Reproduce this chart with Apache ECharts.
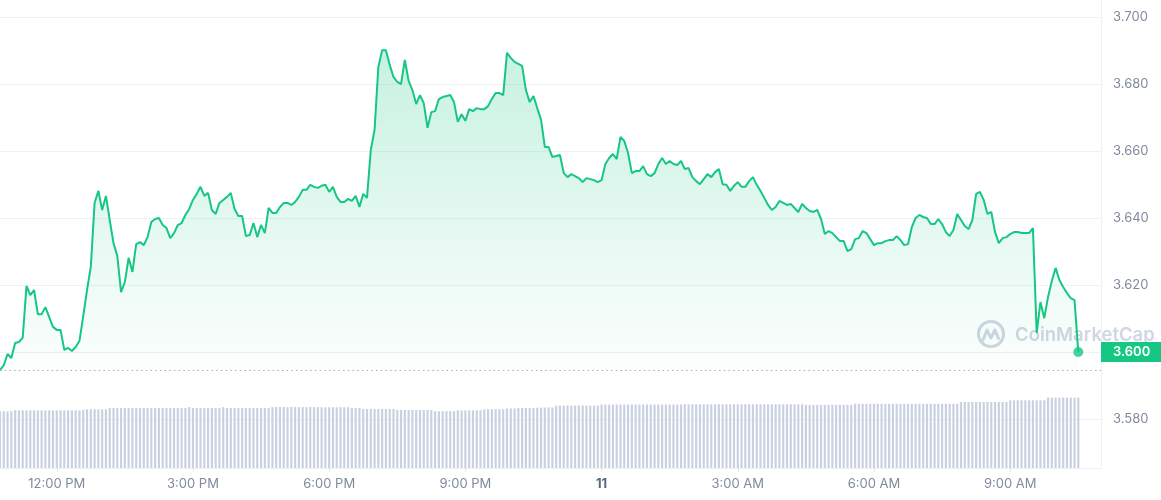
<!DOCTYPE html>
<html>
<head>
<meta charset="utf-8">
<script src="https://cdn.jsdelivr.net/npm/echarts@6/dist/echarts.min.js"></script>
<style>
html,body{margin:0;padding:0;background:#fff;}
#chart{width:1161px;height:500px;}
</style>
</head>
<body>
<div id="chart"></div>
<script>
// 5-minute steps starting 10:45 AM; last 6 slots are empty future room
const startMinute = 10 * 60 + 45;
const slotCount = 292;
const stepMinutes = 5;

const tickTimes = ['12:00', '15:00', '18:00', '21:00', '00:00', '03:00', '06:00', '09:00'];
const tickLabels = ['12:00 PM', '3:00 PM', '6:00 PM', '9:00 PM', '11', '3:00 AM', '6:00 AM', '9:00 AM'];

const priceTicks = [3.58, 3.60, 3.62, 3.64, 3.66, 3.68, 3.70];

const openPrice = 3.5946;

const prices = [
  3.5946, 3.5961, 3.5994, 3.5982, 3.6027, 3.6030, 3.6042, 3.6197, 3.6170, 3.6185,
  3.6113, 3.6113, 3.6134, 3.6104, 3.6075, 3.6066, 3.6066, 3.6006, 3.6012, 3.6003,
  3.6015, 3.6033, 3.6107, 3.6185, 3.6254, 3.6445, 3.6481, 3.6424, 3.6466, 3.6394,
  3.6325, 3.6287, 3.6179, 3.6209, 3.6281, 3.6239, 3.6322, 3.6328, 3.6319, 3.6343,
  3.6388, 3.6397, 3.6400, 3.6379, 3.6370, 3.6340, 3.6355, 3.6379, 3.6385, 3.6409,
  3.6427, 3.6454, 3.6472, 3.6493, 3.6466, 3.6475, 3.6424, 3.6412, 3.6445, 3.6454,
  3.6463, 3.6475, 3.6427, 3.6406, 3.6406, 3.6346, 3.6349, 3.6385, 3.6343, 3.6379,
  3.6355, 3.6430, 3.6415, 3.6415, 3.6433, 3.6445, 3.6445, 3.6439, 3.6448, 3.6463,
  3.6484, 3.6484, 3.6499, 3.6493, 3.6490, 3.6496, 3.6499, 3.6478, 3.6493, 3.6463,
  3.6448, 3.6448, 3.6457, 3.6451, 3.6466, 3.6433, 3.6472, 3.6460, 3.6603, 3.6663,
  3.6851, 3.6901, 3.6901, 3.6857, 3.6821, 3.6806, 3.6800, 3.6872, 3.6809, 3.6782,
  3.6740, 3.6767, 3.6743, 3.6669, 3.6716, 3.6719, 3.6755, 3.6761, 3.6764, 3.6767,
  3.6746, 3.6687, 3.6710, 3.6690, 3.6725, 3.6719, 3.6728, 3.6725, 3.6725, 3.6734,
  3.6755, 3.6773, 3.6773, 3.6767, 3.6893, 3.6878, 3.6866, 3.6860, 3.6854, 3.6782,
  3.6746, 3.6764, 3.6728, 3.6693, 3.6612, 3.6612, 3.6582, 3.6585, 3.6588, 3.6534,
  3.6522, 3.6531, 3.6525, 3.6519, 3.6507, 3.6519, 3.6516, 3.6513, 3.6507, 3.6513,
  3.6561, 3.6579, 3.6591, 3.6576, 3.6642, 3.6630, 3.6594, 3.6534, 3.6540, 3.6540,
  3.6555, 3.6531, 3.6525, 3.6534, 3.6561, 3.6579, 3.6561, 3.6570, 3.6561, 3.6558,
  3.6570, 3.6546, 3.6549, 3.6522, 3.6510, 3.6501, 3.6516, 3.6531, 3.6522, 3.6537,
  3.6546, 3.6501, 3.6499, 3.6481, 3.6496, 3.6507, 3.6493, 3.6493, 3.6510, 3.6522,
  3.6499, 3.6481, 3.6460, 3.6439, 3.6424, 3.6433, 3.6451, 3.6445, 3.6439, 3.6442,
  3.6430, 3.6418, 3.6442, 3.6430, 3.6421, 3.6418, 3.6424, 3.6397, 3.6352, 3.6361,
  3.6355, 3.6343, 3.6331, 3.6331, 3.6301, 3.6307, 3.6337, 3.6340, 3.6361, 3.6355,
  3.6337, 3.6319, 3.6325, 3.6325, 3.6331, 3.6334, 3.6334, 3.6346, 3.6334, 3.6319,
  3.6322, 3.6373, 3.6400, 3.6409, 3.6403, 3.6400, 3.6382, 3.6382, 3.6397, 3.6382,
  3.6358, 3.6346, 3.6364, 3.6412, 3.6394, 3.6376, 3.6367, 3.6394, 3.6472, 3.6478,
  3.6454, 3.6412, 3.6418, 3.6358, 3.6325, 3.6340, 3.6343, 3.6352, 3.6358, 3.6358,
  3.6355, 3.6355, 3.6355, 3.6370, 3.6057, 3.6149, 3.6101, 3.6164, 3.6212, 3.6251,
  3.6215, 3.6194, 3.6176, 3.6161, 3.6155, 3.6000
];

const volumes = [
  47.2, 47.2, 47.2, 47.4, 48.1, 48.1, 48.1, 48.1, 48.1, 48.1,
  48.1, 48.1, 48.1, 48.1, 48.1, 48.1, 48.1, 48.1, 48.1, 48.1,
  48.1, 48.1, 48.3, 48.9, 48.9, 48.9, 48.9, 48.9, 48.9, 50.0,
  50.0, 50.0, 50.0, 50.0, 50.0, 50.0, 50.0, 50.0, 50.0, 50.0,
  50.0, 50.0, 50.0, 50.0, 50.0, 50.0, 50.0, 50.0, 50.0, 50.0,
  50.8, 50.0, 50.0, 50.0, 50.0, 50.0, 50.0, 50.0, 50.0, 50.8,
  50.0, 50.0, 50.0, 50.0, 50.0, 50.0, 50.0, 50.0, 50.0, 50.0,
  50.0, 50.0, 50.8, 50.8, 50.8, 50.8, 50.8, 50.8, 50.8, 50.8,
  50.8, 50.8, 50.8, 50.8, 50.8, 50.6, 50.6, 50.6, 50.6, 50.6,
  50.6, 50.6, 50.6, 50.0, 50.0, 50.0, 49.2, 49.2, 49.2, 49.2,
  49.2, 49.2, 49.2, 49.2, 49.2, 48.4, 48.4, 48.4, 48.4, 48.4,
  48.4, 48.4, 48.4, 48.4, 48.4, 47.3, 47.3, 47.3, 47.3, 47.3,
  47.3, 48.1, 48.1, 48.1, 48.1, 48.1, 48.1, 48.1, 48.9, 48.9,
  48.9, 48.9, 48.9, 48.9, 49.6, 49.6, 49.6, 50.0, 50.0, 50.0,
  50.0, 50.0, 50.3, 50.3, 50.5, 50.5, 50.5, 52.0, 52.0, 52.0,
  52.0, 52.0, 52.0, 52.0, 52.0, 52.0, 52.0, 52.0, 52.0, 52.9,
  52.9, 52.9, 52.9, 52.9, 52.9, 52.9, 52.9, 52.9, 52.9, 52.9,
  52.9, 52.9, 52.9, 52.9, 52.9, 52.9, 52.9, 52.9, 52.9, 52.9,
  52.9, 53.1, 53.1, 53.1, 53.1, 53.1, 53.1, 53.1, 53.1, 53.1,
  53.1, 53.1, 53.1, 53.1, 53.1, 53.1, 53.1, 53.1, 53.1, 53.1,
  53.1, 53.1, 53.1, 53.1, 53.1, 53.1, 53.1, 53.1, 53.1, 53.1,
  53.1, 53.1, 53.1, 52.6, 52.6, 52.6, 52.6, 52.6, 52.6, 52.6,
  52.6, 52.6, 52.6, 52.6, 52.6, 52.6, 53.5, 53.5, 53.5, 53.5,
  53.5, 53.5, 53.5, 53.5, 53.5, 53.5, 53.5, 53.5, 53.5, 53.5,
  53.5, 53.5, 53.5, 53.5, 53.5, 53.5, 53.5, 53.5, 53.5, 53.5,
  53.5, 53.5, 53.5, 53.5, 55.0, 55.0, 55.0, 55.0, 55.0, 55.0,
  55.0, 55.0, 55.0, 55.0, 55.0, 55.0, 55.0, 56.4, 56.4, 56.4,
  56.4, 56.4, 56.4, 56.4, 56.4, 56.4, 56.4, 58.6, 58.6, 58.6,
  58.6, 58.6, 58.6, 58.6, 58.6, 58.6
];

const volumeAxisMax = 390;

// ---- build the category axis (time slots) ----
function pad(n) { return (n < 10 ? '0' : '') + n; }
const categories = [];
for (let i = 0; i < slotCount; i++) {
  const m = (startMinute + i * stepMinutes) % (24 * 60);
  categories.push(pad(Math.floor(m / 60)) + ':' + pad(m % 60));
}
function isTick(idx, val) { return tickTimes.indexOf(val) >= 0; }
function tickText(val) {
  const k = tickTimes.indexOf(val);
  if (k < 0) return '';
  return tickLabels[k] === '11' ? '{day|11}' : tickLabels[k];
}

const lastIndex = prices.length - 1;
const lastPrice = prices[lastIndex];

const GREEN = '#16c784';
const GRID_LINE = '#eff2f5';
const LABEL = '#808a9d';
const WATERMARK = '#d0d6e2';
const FONT = 'Inter, "Noto Sans", sans-serif';

const chart = echarts.init(document.getElementById('chart'), null, { renderer: 'canvas' });

chart.setOption({
  animation: false,
  backgroundColor: '#ffffff',
  grid: [
    { left: 0, right: 60, top: 17, bottom: 81 },
    { left: 0, right: 60, top: 0, bottom: 32 }
  ],
  xAxis: [
    {
      type: 'category', gridIndex: 0, data: categories, boundaryGap: false,
      show: false
    },
    {
      type: 'category', gridIndex: 1, data: categories, boundaryGap: false,
      axisLine: { show: true, lineStyle: { color: GRID_LINE, width: 1 } },
      axisTick: { show: true, interval: isTick, length: 4, lineStyle: { color: '#e3e6ec' } },
      axisLabel: {
        interval: isTick,
        formatter: tickText,
        color: LABEL,
        fontFamily: FONT,
        fontSize: 13,
        margin: 10,
        rich: { day: { fontWeight: 'bold', color: '#58667e', fontFamily: FONT, fontSize: 13 } }
      },
      splitLine: { show: false }
    }
  ],
  yAxis: [
    {
      type: 'value', gridIndex: 0, position: 'right',
      min: priceTicks[0], max: priceTicks[priceTicks.length - 1], interval: 0.02,
      axisLine: { show: false },
      axisTick: { show: false },
      axisLabel: {
        color: LABEL, fontFamily: FONT, fontSize: 13, margin: 12,
        formatter: function (v) { return v.toFixed(3); }
      },
      splitLine: { show: true, lineStyle: { color: GRID_LINE, width: 1 } }
    },
    {
      type: 'value', gridIndex: 1, position: 'right',
      min: 0, max: volumeAxisMax,
      axisLine: { show: true, lineStyle: { color: GRID_LINE, width: 1 } },
      axisTick: { show: false },
      axisLabel: { show: false },
      splitLine: { show: false }
    }
  ],
  graphic: [
    {
      type: 'group', x: 977, y: 320, z: 0, silent: true,
      children: [
        { type: 'circle', shape: { cx: 14, cy: 14, r: 12.5 }, style: { fill: 'none', stroke: WATERMARK, lineWidth: 3.2 } },
        { type: 'polyline', shape: { points: [[6, 20], [10, 10], [14, 18], [18, 10], [21.5, 18.5]] },
          style: { fill: 'none', stroke: WATERMARK, lineWidth: 3, lineJoin: 'round', lineCap: 'round' } },
        { type: 'text', x: 38, y: 15, style: { text: 'CoinMarketCap', fill: WATERMARK, font: '600 18.5px ' + FONT, verticalAlign: 'middle' } }
      ]
    }
  ],
  series: [
    {
      name: 'Volume', type: 'bar', xAxisIndex: 1, yAxisIndex: 1,
      data: volumes, barWidth: 2.2,
      itemStyle: { color: '#c9d1e1' },
      silent: true, z: 1
    },
    {
      name: 'Price', type: 'line', xAxisIndex: 0, yAxisIndex: 0,
      data: prices, showSymbol: false, symbol: 'none',
      lineStyle: { color: GREEN, width: 2 },
      areaStyle: {
        origin: openPrice,
        color: new echarts.graphic.LinearGradient(0, 0, 0, 1, [
          { offset: 0, color: 'rgba(22,199,132,0.34)' },
          { offset: 1, color: 'rgba(22,199,132,0.02)' }
        ])
      },
      z: 3,
      markLine: {
        silent: true, symbol: 'none', precision: 4,
        data: [
          {
            yAxis: openPrice,
            lineStyle: { color: '#a7afc0', type: [1.5, 3.2], width: 1 },
            label: { show: false }
          }
        ]
      }
    },
    {
      name: 'Last', type: 'scatter', xAxisIndex: 0, yAxisIndex: 0,
      data: [[lastIndex, lastPrice]],
      symbol: 'circle', symbolSize: 10,
      itemStyle: { color: GREEN },
      z: 4, silent: true,
      markLine: {
        silent: true, symbol: 'none', precision: 4,
        data: [
          {
            yAxis: lastPrice,
            lineStyle: { color: 'rgba(0,0,0,0)', width: 0 },
            label: {
              show: true, position: 'end', distance: 0,
              formatter: function () { return lastPrice.toFixed(3); },
              backgroundColor: GREEN, color: '#ffffff',
              fontFamily: FONT, fontSize: 13, fontWeight: 600,
              padding: [4, 13, 3, 12]
            }
          }
        ]
      }
    }
  ]
});
</script>
</body>
</html>
